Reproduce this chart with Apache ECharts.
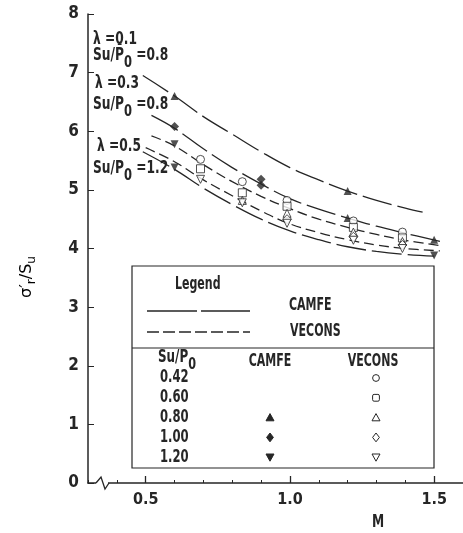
<!DOCTYPE html>
<html><head><meta charset="utf-8">
<script src="https://cdn.jsdelivr.net/npm/echarts@6/dist/echarts.min.js"></script>
<style>html,body{margin:0;padding:0;background:#fff}#c{width:463px;height:533px}</style>
</head><body><div id="c"></div>
<script>
const FONT = '"Liberation Sans Narrow","DejaVu Sans Condensed",sans-serif';
const INK = '#262626';

// axis ticks / labels
const yTickValues = [0,1,2,3,4,5,6,7,8];
const xLabelValues = [0.5, 1.0, 1.5];

// curves [M, sigma'r/Su]
const camfeL01 = [[0.49,6.95],[0.6,6.6],[0.7,6.25],[0.8,5.95],[0.9,5.65],[1.0,5.38],[1.1,5.17],[1.2,4.98],[1.3,4.82],[1.4,4.69],[1.46,4.62]];
const camfeL03 = [[0.52,6.27],[0.6,6.05],[0.7,5.7],[0.8,5.38],[0.9,5.1],[1.0,4.85],[1.1,4.67],[1.2,4.52],[1.3,4.38],[1.4,4.26],[1.52,4.12]];
const veconsUpper = [[0.52,5.92],[0.6,5.75],[0.7,5.43],[0.8,5.14],[0.9,4.89],[1.0,4.68],[1.1,4.5],[1.2,4.36],[1.3,4.24],[1.4,4.14],[1.52,4.05]];
const veconsLower = [[0.5,5.72],[0.6,5.48],[0.7,5.17],[0.8,4.9],[0.9,4.64],[1.0,4.42],[1.1,4.27],[1.2,4.15],[1.3,4.06],[1.4,4.0],[1.52,3.96]];
const camfeL05 = [[0.49,5.65],[0.6,5.35],[0.7,5.03],[0.8,4.75],[0.9,4.5],[1.0,4.3],[1.1,4.15],[1.2,4.03],[1.3,3.95],[1.4,3.9],[1.5,3.87]];

// CAMFE points (filled)
const camfeTri080 = [[0.6,6.6],[1.2,4.98],[1.2,4.52],[1.5,4.15]];
const camfeDia100 = [[0.6,6.08],[0.9,5.18],[0.9,5.08]];
const camfeDown120 = [[0.6,5.78],[0.6,5.38],[1.5,3.88]];

// VECONS points (hollow)
const veconsCir042 = [[0.69,5.52],[0.835,5.14],[0.99,4.82],[1.22,4.47],[1.39,4.28]];
const veconsSq060 = [[0.69,5.36],[0.835,4.95],[0.99,4.72],[1.22,4.36],[1.39,4.18]];
const veconsTri080 = [[0.835,4.82],[0.99,4.6],[1.22,4.28],[1.39,4.12]];
const veconsDia100 = [[0.99,4.5],[1.22,4.2],[1.39,4.06]];
const veconsDown120 = [[0.69,5.18],[0.835,4.78],[0.99,4.43],[1.22,4.14],[1.39,4.0]];

// legend table
const suRows = ['0.42','0.60','0.80','1.00','1.20'];
const camfeRowSym = [null,null,'tri','dia','down'];
const veconsRowSym = ['cir','sq','tri','dia','down'];

const camfeDash = [30, 6];
const veconsDash = [10, 5];

const chart = echarts.init(document.getElementById('c'));

function curve(data, dash){
  return {type:'line', data, smooth:0.4, symbol:'none', showSymbol:false, silent:true,
    lineStyle:{color:INK, width:1.3, type:dash}, z:2};
}
function pts(data, symbol, hollow, rotate, size){
  return {type:'scatter', data, symbol, symbolRotate: rotate||0, symbolSize:size, silent:true,
    itemStyle: hollow ? {color:'#fff', borderColor:INK, borderWidth:1} : {color:INK}, z: hollow?5:4};
}

const labelFont = {fontFamily:FONT, fontWeight:'bold', color:INK};

chart.setOption({
  animation:false,
  backgroundColor:'#fff',
  grid:{left:88, right:-2, top:14, bottom:50},
  xAxis:[{
    type:'value', min:0.3, max:1.6, interval:0.1,
    axisLine:{show:true, onZero:false, lineStyle:{color:INK, width:1.5}},
    axisTick:{show:true, inside:true, length:3, lineStyle:{color:INK}},
    axisLabel:Object.assign({customValues:xLabelValues, margin:9, fontSize:16,
      formatter:v => xLabelValues.some(t=>Math.abs(t-v)<1e-6) ? v.toFixed(1) : ''}, labelFont),
    splitLine:{show:false}
  },{
    type:'value', min:0.3, max:1.6, position:'bottom',
    axisLine:{show:false},
    axisTick:{show:true, inside:true, length:7, customValues:xLabelValues, lineStyle:{color:INK, width:1.3}},
    axisLabel:{show:false}, splitLine:{show:false}
  }],
  yAxis:{
    type:'value', min:0, max:8, interval:1,
    axisLine:{show:true, lineStyle:{color:INK, width:1.5}},
    axisTick:{show:true, inside:true, length:6, lineStyle:{color:INK}},
    axisLabel:Object.assign({margin:9, fontSize:17}, labelFont),
    splitLine:{show:false}
  },
  series:[
    curve(camfeL01, camfeDash),
    curve(camfeL03, camfeDash),
    curve(veconsUpper, veconsDash),
    curve(veconsLower, veconsDash),
    curve(camfeL05, camfeDash),
    pts(camfeTri080, 'triangle', false, 0, 8),
    pts(camfeDia100, 'diamond', false, 0, 9),
    pts(camfeDown120, 'triangle', false, 180, 8),
    pts(veconsCir042, 'circle', true, 0, 8),
    pts(veconsSq060, 'rect', true, 0, 8),
    pts(veconsTri080, 'triangle', true, 0, 8),
    pts(veconsDia100, 'diamond', true, 0, 9),
    pts(veconsDown120, 'triangle', true, 180, 8)
  ]
});

// ---- decorations (text, legend, axis break) ----
const richBase = {
  t:{fontFamily:FONT, fontWeight:'bold', fontSize:17, color:INK, lineHeight:20},
  s:{fontFamily:FONT, fontWeight:'bold', fontSize:16, color:INK, lineHeight:20, padding:[14,0,0,0]}
};
function txt(x, y, text, sx, align){
  return {type:'text', x, y, scaleX: sx||0.8, silent:true, z:20,
    style:{text, rich:richBase, fontFamily:FONT, fontWeight:'bold', fontSize:17, fill:INK,
      verticalAlign:'middle', align:align||'left'}};
}
function shape(kind, cx, cy, r, filled){
  const st = filled ? {fill:INK, stroke:INK, lineWidth:1} : {fill:'#fff', stroke:INK, lineWidth:1};
  if(kind==='cir') return {type:'circle', shape:{cx, cy, r:r*0.85}, style:st, z:20};
  if(kind==='sq') return {type:'rect', shape:{x:cx-r*0.85, y:cy-r*0.85, width:r*1.7, height:r*1.7, r:1.5}, style:st, z:20};
  if(kind==='tri') return {type:'polygon', shape:{points:[[cx,cy-r],[cx+r,cy+r*0.8],[cx-r,cy+r*0.8]]}, style:st, z:20};
  if(kind==='down') return {type:'polygon', shape:{points:[[cx,cy+r],[cx+r,cy-r*0.8],[cx-r,cy-r*0.8]]}, style:st, z:20};
  if(kind==='dia') return {type:'polygon', shape:{points:[[cx,cy-r*1.1],[cx+r*0.85,cy],[cx,cy+r*1.1],[cx-r*0.85,cy]]}, style:st, z:20};
}

const g = [];
// annotations
g.push(txt(93, 40, '{t|λ =0.1}'));
g.push(txt(93, 56, '{t|Su/P\u0304}{s|0}{t| =0.8}'));
g.push(txt(95, 84, '{t|λ =0.3}'));
g.push(txt(93, 105, '{t|Su/P}{s|0}{t| =0.8}'));
g.push(txt(97, 147, '{t|λ =0.5}'));
g.push(txt(93, 169, '{t|Su/P}{s|0}{t| =1.2}'));

// axis titles
g.push({type:'text', x:27, y:277, rotation:Math.PI/2, silent:true, z:20,
  style:{text:'{m|σ\u2032}{s|r}{m|/S}{s|u}', align:'center', verticalAlign:'middle',
    rich:{m:{fontFamily:'"DejaVu Sans",sans-serif', fontSize:16, color:INK, lineHeight:22},
          s:{fontFamily:'"DejaVu Sans",sans-serif', fontSize:12, color:INK, lineHeight:22, padding:[10,0,0,0]}}}});
g.push({type:'text', x:378, y:523, scaleX:0.8, silent:true, z:20,
  style:{text:'M', align:'center', verticalAlign:'middle', fontFamily:FONT, fontWeight:'bold', fontSize:17, fill:INK}});

// legend box
g.push({type:'rect', shape:{x:132, y:266, width:302, height:202}, style:{fill:'#fff', stroke:INK, lineWidth:1.2}, z:15});
g.push({type:'line', shape:{x1:132, y1:348, x2:434, y2:348}, style:{stroke:INK, lineWidth:1.2}, z:16});
g.push(txt(175, 285, 'Legend', 0.72));
g.push({type:'line', shape:{x1:147, y1:311, x2:250, y2:311}, style:{stroke:INK, lineWidth:1.3, lineDash:[50,4]}, z:16});
g.push(txt(289, 306, 'CAMFE', 0.72));
g.push({type:'line', shape:{x1:147, y1:332, x2:250, y2:332}, style:{stroke:INK, lineWidth:1.3, lineDash:[12,4]}, z:16});
g.push(txt(290, 332, 'VECONS', 0.72));
g.push(txt(158, 358, '{t|Su/P}{s|0}', 0.78));
g.push(txt(270, 362, 'CAMFE', 0.72, 'center'));
g.push(txt(373, 362, 'VECONS', 0.72, 'center'));
suRows.forEach((s, i) => {
  const y = 378 + i*19.8;
  g.push(txt(160, y, s, 0.76));
  if (camfeRowSym[i]) g.push(shape(camfeRowSym[i], 270, y, 4, true));
  g.push(shape(veconsRowSym[i], 376, y, 4, false));
});

const o = chart.convertToPixel({gridIndex:0}, [0.3, 0]);
// axis break zigzag
g.push({type:'rect', shape:{x:o[0]+8, y:o[1]-2, width:12, height:4}, style:{fill:'#fff'}, z:30});
g.push({type:'polyline', shape:{points:[[o[0]+8,o[1]],[o[0]+13,o[1]-6],[o[0]+17,o[1]+6],[o[0]+21,o[1]]]},
  style:{stroke:INK, lineWidth:1.3, fill:null}, z:31});

chart.setOption({graphic:g});
</script></body></html>
